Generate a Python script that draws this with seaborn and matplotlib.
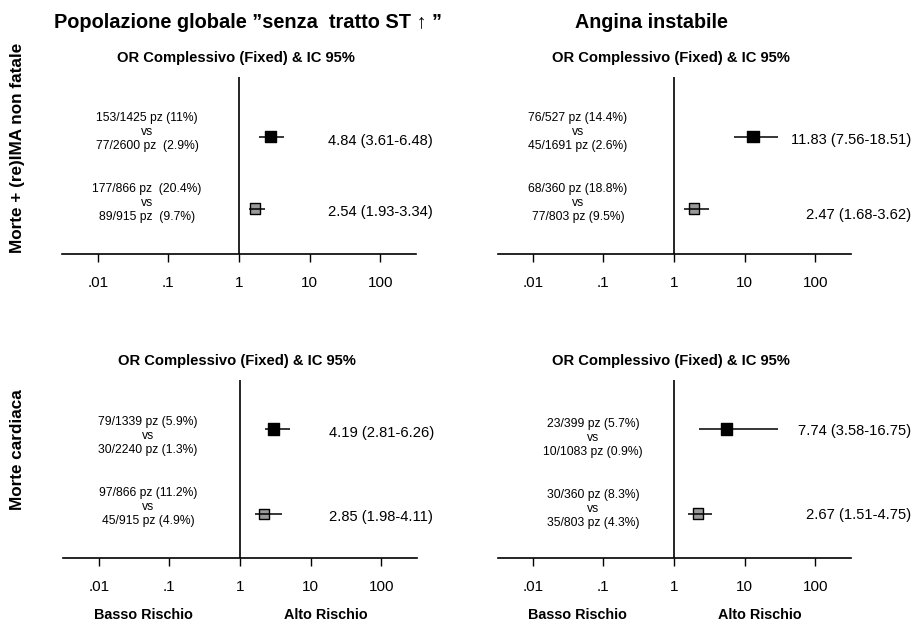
import numpy as np
import pandas as pd
import matplotlib
matplotlib.use("Agg")
import matplotlib.pyplot as plt
import seaborn as sns

# ---------------- data ----------------
populations = ["Popolazione globale \u201dsenza  tratto ST \u2191 \u201d", "Angina instabile"]
outcomes = ["Morte + (re)IMA non fatale", "Morte cardiaca"]
subtitle = "OR Complessivo (Fixed) & IC 95%"
tick_values = [0.01, 0.1, 1, 10, 100]
tick_labels = [".01", ".1", "1", "10", "100"]
low_label = "Basso Rischio"
high_label = "Alto Rischio"
groups = ["A", "B"]  # row 1 (black square), row 2 (grey square)

# counts text (panel order: top-left, top-right, bottom-left, bottom-right)
counts_tl = ["153/1425 pz (11%)\nvs\n77/2600 pz  (2.9%)", "177/866 pz  (20.4%)\nvs\n89/915 pz  (9.7%)"]
counts_tr = ["76/527 pz (14.4%)\nvs\n45/1691 pz (2.6%)", "68/360 pz (18.8%)\nvs\n77/803 pz (9.5%)"]
counts_bl = ["79/1339 pz (5.9%)\nvs\n30/2240 pz (1.3%)", "97/866 pz (11.2%)\nvs\n45/915 pz (4.9%)"]
counts_br = ["23/399 pz (5.7%)\nvs\n10/1083 pz (0.9%)", "30/360 pz (8.3%)\nvs\n35/803 pz (4.3%)"]

# OR labels
or_text_tl = ["4.84 (3.61-6.48)", "2.54 (1.93-3.34)"]
or_text_tr = ["11.83 (7.56-18.51)", "2.47 (1.68-3.62)"]
or_text_bl = ["4.19 (2.81-6.26)", "2.85 (1.98-4.11)"]
or_text_br = ["7.74 (3.58-16.75)", "2.67 (1.51-4.75)"]

# plotted estimates / CI as drawn in the picture
est_tl = [2.77, 1.71]; lo_tl = [1.91, 1.38]; hi_tl = [4.27, 2.30]
est_tr = [13.2, 1.94]; lo_tr = [7.17, 1.40]; hi_tr = [30.1, 3.17]
est_bl = [2.99, 2.18]; lo_bl = [2.23, 1.61]; hi_bl = [5.04, 3.97]
est_br = [5.50, 2.17]; lo_br = [2.27, 1.58]; hi_br = [30.2, 3.47]

# ---------------- style ----------------
sns.set_theme(style="white")
plt.rcParams["font.family"] = ["Liberation Sans", "DejaVu Sans"]
plt.rcParams["text.color"] = "black"
plt.rcParams["xtick.color"] = "black"
plt.rcParams["xtick.labelcolor"] = "black"

W, H = 911, 623
fig = plt.figure(figsize=(W / 100, H / 100), dpi=100)
fig.patch.set_facecolor("white")


def fx(px):
    return px / W


def fy(py):
    return 1 - py / H


panels = [
    dict(cx=239, top=77, bot=254, y1=136.5, y2=208.5, cnt_x=147, cnt_y=(132, 203), or_x=(328, 328), or_y=(141, 212),
         counts=counts_tl, ortxt=or_text_tl, est=est_tl, lo=lo_tl, hi=hi_tl, bottom_labels=False),
    dict(cx=674, top=77, bot=254, y1=136.5, y2=208.5, cnt_x=578, cnt_y=(132, 203), or_x=(791, 806.5), or_y=(140, 215),
         counts=counts_tr, ortxt=or_text_tr, est=est_tr, lo=lo_tr, hi=hi_tr, bottom_labels=False),
    dict(cx=240, top=380, bot=558, y1=429, y2=514, cnt_x=148, cnt_y=(436, 507), or_x=(329, 329), or_y=(432.5, 517),
         counts=counts_bl, ortxt=or_text_bl, est=est_bl, lo=lo_bl, hi=hi_bl, bottom_labels=True),
    dict(cx=674, top=380, bot=558, y1=429, y2=513.5, cnt_x=593, cnt_y=(438, 509), or_x=(798, 806), or_y=(430.5, 515),
         counts=counts_br, ortxt=or_text_br, est=est_br, lo=lo_br, hi=hi_br, bottom_labels=True),
]

AX_W = 353
for p in panels:
    left = p["cx"] - AX_W / 2
    ax = fig.add_axes([fx(left), fy(p["bot"]), AX_W / W, (p["bot"] - p["top"]) / H])
    ax.set_xscale("log")
    ax.set_xlim(10 ** -2.5, 10 ** 2.5)
    s = p["y2"] - p["y1"]
    ax.set_ylim(-(p["bot"] - p["y2"]) / s, 1 + (p["y1"] - p["top"]) / s)

    df = pd.DataFrame({"or": p["est"], "lo": p["lo"], "hi": p["hi"],
                       "row": [1, 0], "group": groups})
    ax.hlines(df["row"], df["lo"], df["hi"], color="black", lw=1.1, zorder=4)
    sns.scatterplot(data=df, x="or", y="row", hue="group", size="group",
                    palette={"A": "black", "B": "#9a9a9a"}, sizes={"A": 68, "B": 52},
                    marker="s", edgecolor="black", linewidth=1.0, legend=False, ax=ax, zorder=3)
    ax.set_xlabel("")
    ax.set_ylabel("")
    ax.axvline(1, color="black", lw=1.2, zorder=2)

    for sp in ["left", "top", "right"]:
        ax.spines[sp].set_visible(False)
    ax.spines["bottom"].set_color("black")
    ax.spines["bottom"].set_linewidth(1.2)
    ax.set_yticks([])
    ax.set_xticks(tick_values)
    ax.set_xticklabels(tick_labels)
    ax.xaxis.set_minor_locator(matplotlib.ticker.NullLocator())
    ax.tick_params(axis="x", which="major", direction="out", length=6, width=1,
                   color="black", labelcolor="black", pad=10, labelsize=11, bottom=True)
    ax.set_facecolor("none")

    fig.text(fx(p["cx"] - 3), fy(p["top"] - 19), subtitle, ha="center", va="center",
             fontsize=10.6, fontweight="bold")
    for i in range(2):
        fig.text(fx(p["cnt_x"]), fy(p["cnt_y"][i]), p["counts"][i], ha="center", va="center",
                 fontsize=8.7, linespacing=1.25)
        fig.text(fx(p["or_x"][i]), fy(p["or_y"][i]), p["ortxt"][i], ha="left", va="center",
                 fontsize=10.6)
    if p["bottom_labels"]:
        fig.text(fx(p["cx"] - 97), fy(615), low_label, ha="center", va="center",
                 fontsize=10.4, fontweight="bold")
        fig.text(fx(p["cx"] + 86), fy(615), high_label, ha="center", va="center",
                 fontsize=10.4, fontweight="bold")

fig.text(fx(248), fy(23), populations[0], ha="center", va="center", fontsize=14.4, fontweight="bold")
fig.text(fx(651), fy(23), populations[1], ha="center", va="center", fontsize=14.2, fontweight="bold")
fig.text(fx(18), fy(148), outcomes[0], ha="center", va="center", rotation=90, fontsize=12.3, fontweight="bold")
fig.text(fx(18), fy(450), outcomes[1], ha="center", va="center", rotation=90, fontsize=12.3, fontweight="bold")

fig.savefig("out.png", dpi=100, facecolor="white")
